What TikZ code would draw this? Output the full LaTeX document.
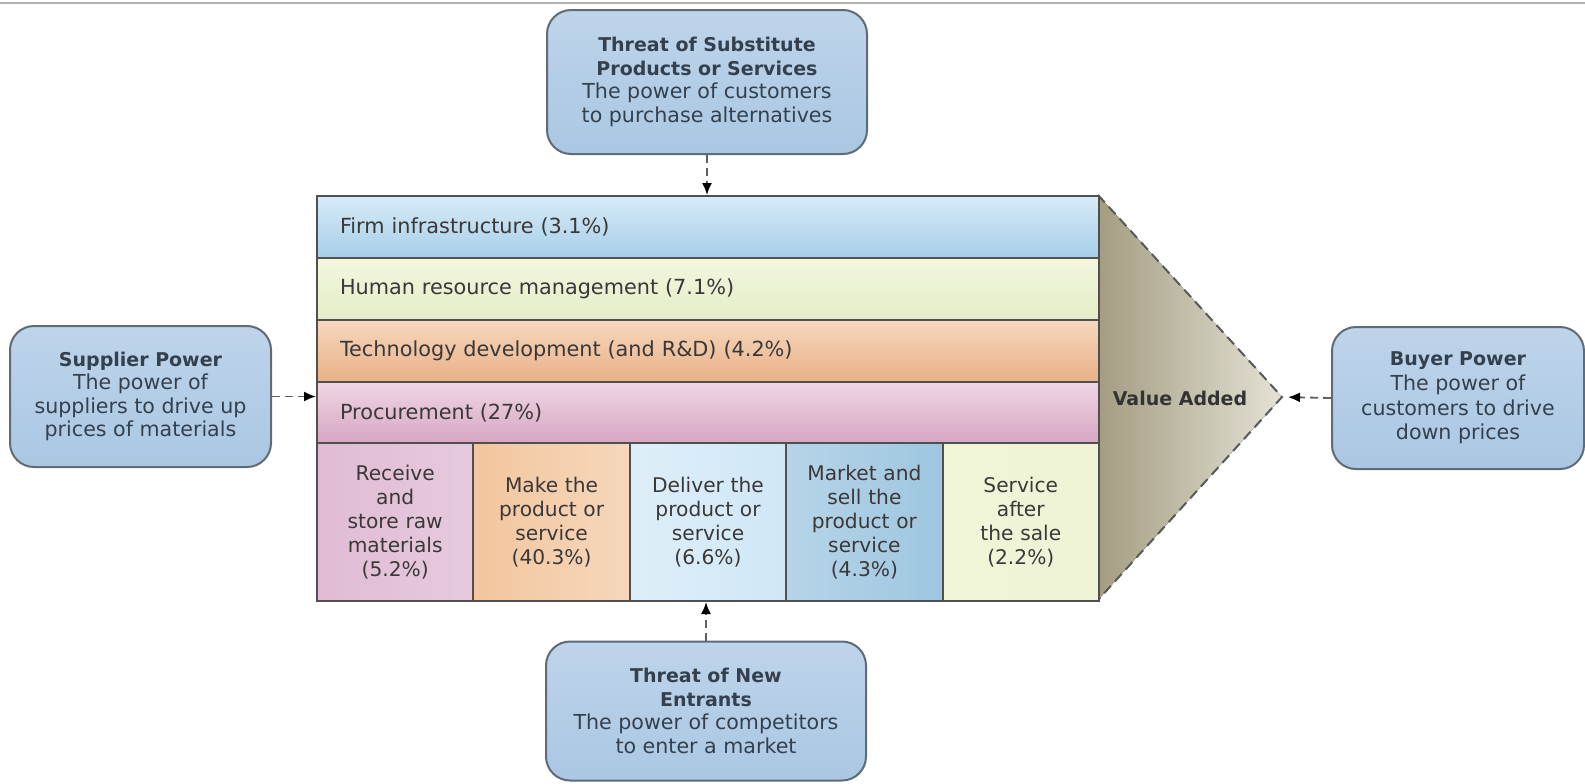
\documentclass[tikz,border=0pt]{standalone}
\usepackage{fontspec}
\setmainfont{DejaVu Sans}
\usepackage{xcolor}
\usepackage{tikz}
\usetikzlibrary{arrows.meta}
\definecolor{boxtop}{RGB}{190, 212, 234}
\definecolor{boxbot}{RGB}{170, 199, 227}
\definecolor{boxedge}{RGB}{95, 108, 120}
\definecolor{boxtext}{RGB}{52, 64, 78}
\definecolor{celltext}{RGB}{58, 56, 56}
\definecolor{blockedge}{RGB}{80, 80, 80}
\definecolor{firmtop}{RGB}{216, 235, 247}
\definecolor{firmbot}{RGB}{166, 206, 232}
\definecolor{hrtop}{RGB}{243, 247, 222}
\definecolor{hrbot}{RGB}{228, 237, 200}
\definecolor{techtop}{RGB}{247, 216, 190}
\definecolor{techbot}{RGB}{232, 176, 134}
\definecolor{proctop}{RGB}{240, 214, 228}
\definecolor{procbot}{RGB}{214, 166, 194}
\definecolor{recvfill}{RGB}{224, 188, 212}
\definecolor{makefill}{RGB}{242, 198, 158}
\definecolor{delivfill}{RGB}{208, 231, 246}
\definecolor{marketfill}{RGB}{158, 198, 224}
\definecolor{servfill}{RGB}{241, 245, 216}
\definecolor{valueleft}{RGB}{164, 157, 130}
\definecolor{valueright}{RGB}{228, 226, 214}
\newcommand{\forcetitle}[1]{{\bfseries\fontsize{9.5}{11.8}\selectfont #1}}
\tikzset{
    forcebox/.style={draw=boxedge, line width=1pt, rounded corners=12pt, top color=boxtop, bottom color=boxbot,
        text=boxtext, align=center, inner sep=0pt, font=\fontsize{10.3}{11.8}\selectfont},
    rowbar/.style={draw=blockedge, line width=1pt, anchor=north west, text width=368pt, inner xsep=11.5pt,
        align=left, text=celltext, font=\fontsize{10.4}{12}\selectfont},
    cellbox/.style={draw=blockedge, line width=1pt, anchor=north west, minimum height=79pt, text width=70pt,
        inner xsep=4.1pt, align=center, text=celltext, font=\fontsize{10.1}{12}\selectfont},
    conn/.style={draw=gray!75!black, line width=0.9pt, dash pattern=on 4pt off 2.5pt,
        -{Latex[length=6pt, width=5pt, color=black]}}
}

\begin{document}
\begin{tikzpicture}[x=0.5pt, y=-0.5pt]
    \path[use as bounding box, fill=white] (0,0) rectangle (1585,783);
    \draw[gray!60, line width=1pt] (0,3) -- (1585,3);

    \coordinate (tip) at (1282,397);
    \fill[left color=valueleft, right color=valueright] (1098,195) -- (tip) -- (1098,600) -- cycle;
    \draw[gray!70!black, line width=1pt, dash pattern=on 5pt off 3pt] (1098,195) -- (tip) -- (1098,600);
    \node[font=\bfseries\fontsize{9.5}{11}\selectfont, text=black!80] (value) at (1180,398) {Value Added};

    \node[rowbar, top color=firmtop, bottom color=firmbot, minimum height=31pt] (firm) at (316,195) {Firm infrastructure (3.1\%)};
    \node[rowbar, top color=hrtop, bottom color=hrbot, minimum height=31pt] (hrm) at (316,257) {Human resource management (7.1\%)};
    \node[rowbar, top color=techtop, bottom color=techbot, minimum height=31pt] (tech) at (316,319) {Technology development (and R\&D) (4.2\%)};
    \node[rowbar, top color=proctop, bottom color=procbot, minimum height=30.5pt] (proc) at (316,381) {Procurement (27\%)};

    \node[cellbox, left color=recvfill, right color=recvfill!80!white] (recv) at (316,442) {Receive\\and\\store raw\\materials\\(5.2\%)};
    \node[cellbox, left color=makefill, right color=makefill!70!white] (make) at (472.4,442) {Make the\\product or\\service\\(40.3\%)};
    \node[cellbox, left color=delivfill!70!white, right color=delivfill] (deliv) at (628.8,442) {Deliver the\\product or\\service\\(6.6\%)};
    \node[cellbox, left color=marketfill!75!white, right color=marketfill] (market) at (785.2,442) {Market and\\sell the\\product or\\service\\(4.3\%)};
    \node[cellbox, left color=servfill, right color=servfill!85!hrbot] (serv) at (941.6,442) {Service\\after\\the sale\\(2.2\%)};

    \node[forcebox, minimum width=160pt, minimum height=72pt] (subst) at (707,82)
        {\forcetitle{Threat of Substitute}\\\forcetitle{Products or Services}\\The power of customers\\to purchase alternatives};
    \node[forcebox, minimum width=130.5pt, minimum height=70.5pt] (supplier) at (140.5,396.5)
        {\forcetitle{Supplier Power}\\The power of\\suppliers to drive up\\prices of materials};
    \node[forcebox, minimum width=126pt, minimum height=71pt, font=\fontsize{10.3}{12.4}\selectfont] (buyer) at (1458,398)
        {\forcetitle{Buyer Power}\\The power of\\customers to drive\\down prices};
    \node[forcebox, minimum width=160pt, minimum height=69.5pt] (entrants) at (706,711)
        {\forcetitle{Threat of New}\\\forcetitle{Entrants}\\The power of competitors\\to enter a market};

    \draw[conn] (subst.south) -- (subst.south |- firm.north);
    \draw[conn] (supplier.east) -- (supplier.east -| proc.west);
    \draw[conn, shorten >=3pt] (buyer.west) -- (tip);
    \draw[conn] (entrants.north) -- (entrants.north |- deliv.south);
\end{tikzpicture}
\end{document}
